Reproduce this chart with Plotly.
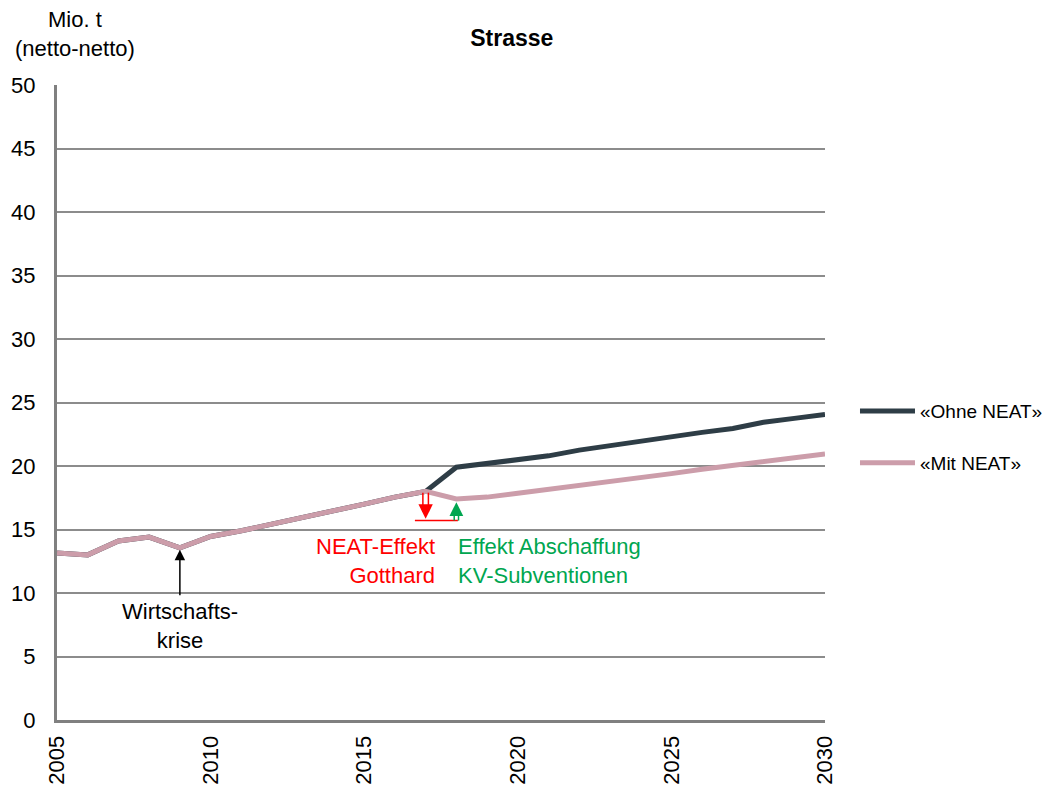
import plotly.graph_objects as go

years = list(range(2005, 2031))
mit_neat = [13.15, 13.0, 14.1, 14.4, 13.55, 14.45, 14.9, 15.4, 16.0, 16.45, 17.0, 17.55, 18.0,
            17.4, 17.55, 17.85, 18.15, 18.45, 18.75, 19.1, 19.4, 19.75, 20.05, 20.35, 20.65, 20.95]
ohne_neat = [13.15, 13.0, 14.1, 14.4, 13.55, 14.45, 14.9, 15.4, 16.0, 16.45, 17.0, 17.55, 18.0,
             19.9, 20.2, 20.5, 20.8, 21.25, 21.6, 21.9, 22.35, 22.65, 22.95, 23.45, 23.75, 24.05]
y_ticks = [0, 5, 10, 15, 20, 25, 30, 35, 40, 45, 50]
x_ticks = [2005, 2010, 2015, 2020, 2025, 2030]

FONT = "Liberation Sans, Arial, sans-serif"
DARK = "#2E3D46"
PINK = "#CC9DAA"
RED = "#FF0000"
GREEN = "#00A650"

fig = go.Figure()
fig.add_trace(go.Scatter(x=years, y=ohne_neat, mode="lines", name="«Ohne NEAT»",
                         line=dict(color=DARK, width=5), legendgroup="a"))
fig.add_trace(go.Scatter(x=years, y=mit_neat, mode="lines", name="«Mit NEAT»",
                         line=dict(color=PINK, width=5), legendgroup="b"))

i17 = years.index(2017)
i09 = years.index(2009)
i18 = years.index(2018)
base = 15.7

# Wirtschaftskrise arrow
fig.add_annotation(x=2009, y=mit_neat[i09] - 0.15, ax=2009, ay=9.7, axref="x", ayref="y",
                   showarrow=True, arrowhead=2, arrowsize=1.4, arrowwidth=1.5, arrowcolor="black",
                   text="")
fig.add_annotation(x=2009, y=7.4, text="Wirtschafts-<br>krise", showarrow=False,
                   font=dict(family=FONT, size=22, color="black"), align="center")

# red NEAT effect arrow (double shaft)
for dx in (-0.09, 0.09):
    fig.add_shape(type="line", x0=2017 + dx, x1=2017 + dx, y0=mit_neat[i17] - 0.1, y1=16.4,
                  line=dict(color=RED, width=1.5))
fig.add_annotation(x=2017, y=base + 0.15, ax=2017, ay=16.6, axref="x", ayref="y",
                   showarrow=True, arrowhead=2, arrowsize=1.15, arrowwidth=2.5, arrowcolor=RED, text="")
fig.add_shape(type="line", x0=2016.65, x1=2018.05, y0=base, y1=base, line=dict(color=RED, width=1.5))

# green arrow (double shaft)
for dx in (-0.07, 0.07):
    fig.add_shape(type="line", x0=2018 + dx, x1=2018 + dx, y0=base, y1=16.6,
                  line=dict(color=GREEN, width=1.5))
fig.add_annotation(x=2018, y=mit_neat[i18] - 0.25, ax=2018, ay=16.5, axref="x", ayref="y",
                   showarrow=True, arrowhead=2, arrowsize=1.1, arrowwidth=2.5, arrowcolor=GREEN, text="")

fig.add_annotation(x=2017.36, y=12.5, xanchor="right", text="NEAT-Effekt<br>Gotthard", showarrow=False,
                   font=dict(family=FONT, size=22, color=RED), align="right")
fig.add_annotation(x=2017.98, y=12.5, xanchor="left", text="Effekt Abschaffung<br>KV-Subventionen",
                   showarrow=False, font=dict(family=FONT, size=22, color=GREEN), align="left")

# y-axis title
fig.add_annotation(xref="paper", yref="paper", x=0.0234, y=1.080, xanchor="center", yanchor="middle",
                   text="Mio. t<br>(netto-netto)", showarrow=False,
                   font=dict(family=FONT, size=22, color="black"), align="center")

fig.update_layout(
    width=1051, height=789,
    margin=dict(l=57, r=226, t=85, b=69, autoexpand=False),
    paper_bgcolor="white", plot_bgcolor="white",
    font=dict(family=FONT, size=22, color="black"),
    title=dict(text="<b>Strasse</b>", x=0.487, xanchor="center", y=0.952, yanchor="middle",
               font=dict(family=FONT, size=23, color="black")),
    showlegend=True,
    legend=dict(xref="container", yref="container", x=0.8135, y=0.503, xanchor="left", yanchor="top",
                tracegroupgap=24,
                font=dict(family=FONT, size=19, color="black"), bgcolor="rgba(0,0,0,0)",
                itemwidth=55),
)
fig.update_xaxes(range=[2005, 2030], tickvals=x_ticks, tickangle=-90, showgrid=False,
                 showline=True, linecolor="#808080", linewidth=3, ticks="", zeroline=False,
                 tickfont=dict(family=FONT, size=22), ticklabelstandoff=4, automargin=False)
fig.update_yaxes(range=[0, 50], tickvals=y_ticks, showgrid=True, gridcolor="#8C8C8C", gridwidth=1.5,
                 showline=True, linecolor="#808080", linewidth=3, ticks="", zeroline=False,
                 tickfont=dict(family=FONT, size=22), ticklabelstandoff=14, automargin=False)

fig.write_html("out.html")
